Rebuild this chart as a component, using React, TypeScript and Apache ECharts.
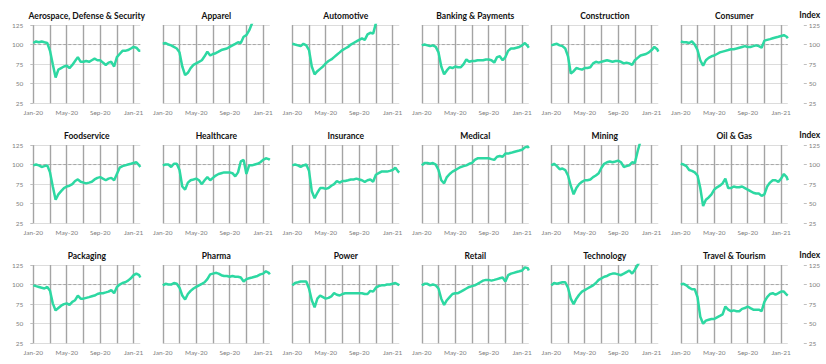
import React, { useEffect, useRef } from 'react';
import * as echarts from 'echarts';

// x positions in months since Jan-20
const months = [0, 0.33, 0.67, 1, 1.33, 1.67, 2, 2.33, 2.67, 3, 3.33, 3.67, 4, 4.33, 4.67, 5, 5.33, 5.67, 6, 6.33, 6.67, 7, 7.33, 7.67, 8, 8.33, 8.67, 9, 9.33, 9.67, 10, 10.33, 10.67, 11, 11.33, 11.67, 12, 12.33, 12.67, 12.8];
const xTickMonths = [0, 4, 8, 12];
const xTickLabels = ['Jan-20', 'May-20', 'Sep-20', 'Jan-21'];
const yTicks = [25, 50, 75, 100, 125];
const baseline = 100;

const titles = [
  'Aerospace, Defense & Security', 'Apparel', 'Automotive', 'Banking & Payments', 'Construction', 'Consumer',
  'Foodservice', 'Healthcare', 'Insurance', 'Medical', 'Mining', 'Oil & Gas',
  'Packaging', 'Pharma', 'Power', 'Retail', 'Technology', 'Travel & Tourism',
];

const aerospace = [102, 104, 103, 104, 103, 102, 92, 75, 58, 68, 70, 72, 73, 70, 74, 79, 84, 78, 78, 79, 78, 80, 82, 80, 80, 77, 74, 77, 78, 72, 84, 88, 92, 92, 93, 95, 97, 96, 92, 92];
const apparel = [101, 102, 100, 99, 97, 95, 90, 72, 61, 64, 70, 74, 76, 78, 80, 85, 91, 86, 88, 89, 91, 93, 94, 95, 97, 99, 101, 103, 102, 110, 112, 118, 127, 133, null, null, null, null, null, null];
const automotive = [101, 100, 99, 98, 101, 99, 93, 72, 62, 66, 69, 72, 76, 79, 81, 84, 87, 90, 93, 95, 97, 100, 102, 104, 106, 108, 106, 113, 115, 114, 127, 133, null, null, null, null, null, null, null, null];
const banking = [99, 100, 99, 98, 99, 97, 90, 72, 62, 67, 71, 70, 72, 71, 71, 75, 81, 78, 79, 79, 80, 80, 80, 81, 81, 80, 77, 84, 85, 80, 84, 92, 95, 95, 96, 97, 99, 102, 98, 96];
const construction = [99, 100, 101, 99, 98, 95, 85, 63, 66, 70, 69, 68, 70, 70, 71, 76, 78, 77, 78, 79, 80, 79, 78, 79, 79, 78, 76, 77, 76, 74, 80, 83, 86, 87, 88, 90, 93, 97, 94, 91];
const consumer = [104, 103, 103, 102, 104, 100, 93, 80, 73, 80, 83, 85, 86, 88, 90, 91, 92, 93, 94, 94, 95, 96, 97, 98, 97, 97, 98, 99, 98, 96, 105, 106, 107, 108, 109, 110, 111, 112, 110, 108];
const foodservice = [99, 100, 99, 97, 98, 99, 90, 72, 55, 62, 66, 70, 72, 73, 75, 79, 81, 78, 77, 76, 77, 78, 81, 83, 84, 82, 80, 82, 83, 80, 88, 96, 98, 99, 100, 101, 102, 103, 99, 97];
const healthcare = [99, 100, 100, 97, 101, 101, 93, 72, 68, 77, 80, 81, 82, 80, 75, 80, 84, 80, 83, 86, 88, 89, 90, 90, 90, 89, 85, 90, 104, 106, 88, 99, 99, 100, 101, 103, 106, 108, 107, 106];
const insurance = [99, 100, 99, 97, 99, 100, 92, 66, 57, 64, 70, 70, 69, 70, 73, 75, 79, 77, 79, 79, 80, 81, 81, 82, 81, 80, 78, 80, 81, 78, 87, 89, 91, 91, 91, 92, 93, 96, 91, 90];
const medical = [99, 102, 102, 101, 102, 100, 93, 80, 76, 84, 88, 91, 93, 95, 97, 98, 99, 101, 102, 106, 108, 108, 108, 108, 108, 107, 106, 110, 111, 110, 114, 114, 115, 116, 117, 118, 119, 122, 123, 121];
const mining = [99, 101, 98, 94, 95, 93, 86, 73, 62, 70, 75, 78, 80, 80, 81, 84, 86, 89, 96, 101, 103, 104, 103, 104, 105, 103, 97, 98, 99, 103, 102, 117, 130, 135, null, null, null, null, null, null];
const oilGas = [101, 100, 98, 93, 92, 90, 86, 70, 47, 55, 58, 62, 68, 71, 73, 76, 82, 70, 70, 72, 71, 71, 72, 70, 68, 66, 64, 63, 63, 60, 62, 72, 77, 80, 80, 78, 82, 88, 84, 80];
const packaging = [99, 98, 97, 96, 95, 97, 92, 76, 67, 70, 73, 75, 76, 74, 78, 80, 86, 82, 82, 83, 84, 85, 86, 88, 89, 89, 90, 91, 93, 89, 97, 100, 102, 103, 105, 108, 112, 114, 112, 109];
const pharma = [99, 101, 100, 100, 102, 101, 96, 86, 81, 88, 92, 95, 97, 99, 101, 103, 107, 113, 114, 115, 114, 112, 111, 111, 110, 111, 110, 110, 109, 104, 107, 108, 109, 110, 111, 113, 114, 117, 115, 113];
const power = [99, 102, 103, 104, 104, 104, 95, 80, 71, 82, 86, 84, 82, 83, 85, 89, 87, 86, 88, 89, 89, 89, 89, 89, 89, 89, 88, 88, 92, 91, 96, 98, 99, 99, 100, 100, 101, 102, 100, 99];
const retail = [99, 101, 101, 99, 100, 99, 95, 82, 74, 80, 84, 88, 89, 89, 91, 93, 95, 97, 98, 99, 101, 103, 105, 106, 106, 105, 106, 107, 108, 109, 104, 112, 114, 115, 116, 117, 118, 122, 121, 118];
const technology = [99, 102, 101, 102, 103, 103, 96, 82, 75, 82, 87, 91, 93, 95, 97, 99, 102, 106, 108, 110, 111, 113, 114, 114, 113, 112, 114, 116, 118, 114, 119, 125, 131, null, null, null, null, null, null, null];
const travel = [100, 101, 99, 96, 94, 94, 84, 59, 50, 54, 55, 56, 56, 58, 60, 62, 72, 68, 66, 67, 66, 66, 69, 70, 72, 70, 68, 68, 68, 66, 78, 84, 88, 89, 87, 89, 91, 91, 87, 86];

const seriesValues = [
  aerospace, apparel, automotive, banking, construction, consumer,
  foodservice, healthcare, insurance, medical, mining, oilGas,
  packaging, pharma, power, retail, technology, travel,
];

const FONT = 'Lato, "Open Sans", sans-serif';
const LINE = '#2DD8A2';

export default function App() {
  const ref = useRef<HTMLDivElement>(null);
  useEffect(() => {
    document.body.style.margin = '0';
    const chart = echarts.init(ref.current!, null, { renderer: 'svg' });
    const xMin = months[0];
    const xMax = months[months.length - 1];
    const yMin = yTicks[0];
    const yMax = yTicks[yTicks.length - 1];
    const yStep = yTicks[1] - yTicks[0];

    const colW = 129.5, left0 = 33.3, plotW = 107, top0 = 25, rowH = 120, plotH = 78.3;
    const grids: any[] = [], xAxes: any[] = [], yAxes: any[] = [], series: any[] = [], titleArr: any[] = [];

    const labelFmt = (v: number) => {
      const k = xTickMonths.findIndex((m) => Math.abs(m - v) < 1e-6);
      return k >= 0 ? xTickLabels[k] : '';
    };

    for (let i = 0; i < seriesValues.length; i++) {
      const r = Math.floor(i / 6), c = i % 6;
      const left = left0 + c * colW, top = top0 + r * rowH;
      grids.push({ left, top, width: plotW, height: plotH, containLabel: false });
      titleArr.push({
        text: titles[i], left: left + plotW / 2, top: top - 14, textAlign: 'center', padding: 0,
        textStyle: { fontSize: 8.5, fontWeight: 'bold', color: '#111', fontFamily: FONT },
      });
      xAxes.push({
        type: 'value', gridIndex: i, min: xMin, max: xMax, interval: 2,
        axisLine: { show: false }, axisTick: { show: false },
        axisLabel: { formatter: labelFmt, fontSize: 6.5, color: '#808080', margin: 6, fontFamily: FONT, showMaxLabel: false },
        splitLine: { show: true, showMaxLine: false, lineStyle: { color: '#a4a4a4', width: 1.4 } },
      });
      yAxes.push({
        type: 'value', gridIndex: i, min: yMin, max: yMax, interval: yStep, position: 'left', offset: c === 0 ? 6 : 0,
        axisLine: { show: false },
        axisTick: { show: c === 0, length: 3, lineStyle: { color: '#bfbfbf' } },
        axisLabel: { show: c === 0, fontSize: 6.5, color: '#808080', margin: 4, fontFamily: FONT },
        splitLine: { show: true, lineStyle: { color: '#dcdcdc', width: 1 } },
      });
      series.push({
        type: 'line', xAxisIndex: i, yAxisIndex: i, silent: true, symbol: 'none', z: 1,
        data: [[xMin, baseline], [xMax, baseline]],
        lineStyle: { color: '#a6a6a6', width: 1, type: [3, 2] },
      });
      series.push({
        type: 'line', xAxisIndex: i, yAxisIndex: i, symbol: 'none', showSymbol: false, z: 3, clip: true,
        data: months.map((m, k) => [m, seriesValues[i][k]]),
        lineStyle: { color: LINE, width: 2.5 },
      });
    }

    // right-hand "Index" axes
    for (let r = 0; r < 3; r++) {
      yAxes.push({
        type: 'value', gridIndex: r * 6 + 5, min: yMin, max: yMax, interval: yStep, position: 'right', offset: 16,
        name: 'Index', nameLocation: 'end', nameGap: 6,
        nameTextStyle: { fontSize: 8.5, fontWeight: 'bold', color: '#111', fontFamily: FONT, padding: [0, 0, 0, 12] },
        axisLine: { show: false },
        axisTick: { show: true, length: 3, lineStyle: { color: '#bfbfbf' } },
        axisLabel: { show: true, fontSize: 6.5, color: '#808080', margin: 5, fontFamily: FONT },
        splitLine: { show: false },
      });
    }

    chart.setOption({
      animation: false,
      backgroundColor: '#ffffff',
      title: titleArr,
      grid: grids,
      xAxis: xAxes,
      yAxis: yAxes,
      series,
    });
    return () => chart.dispose();
  }, []);
  return <div ref={ref} style={{ width: 826, height: 364 }} />;
}
